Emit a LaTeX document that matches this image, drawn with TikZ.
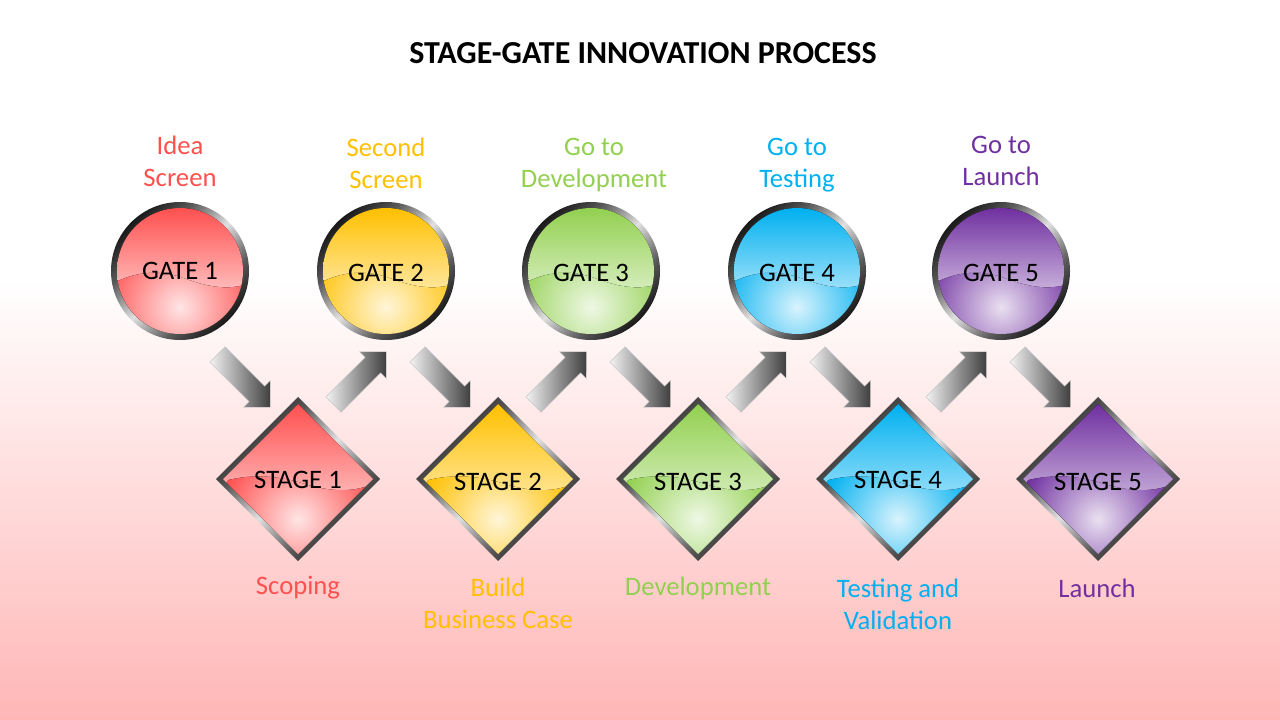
\documentclass[tikz,border=0pt]{standalone}
\usepackage{fontspec}
\setmainfont{Carlito}
\usetikzlibrary{shapes.arrows,calc}

\definecolor{sgred}{RGB}{255,80,80}
\definecolor{sgyellow}{RGB}{255,192,0}
\definecolor{sggreen}{RGB}{146,208,80}
\definecolor{sgblue}{RGB}{0,176,240}
\definecolor{sgpurple}{RGB}{112,48,160}
\definecolor{sgpink}{RGB}{255,182,182}

\pgfdeclareverticalshading{bezelshade}{100bp}{color(0bp)=(black!90); color(25bp)=(black!90); color(36bp)=(black!65); color(50bp)=(white!88!black); color(64bp)=(black!65); color(75bp)=(black!90); color(100bp)=(black!90)}

\begin{document}
\begin{tikzpicture}[x=0.75pt,y=0.75pt,yscale=-1,xscale=1,
  bezel/.style={shade, shading=bezelshade, shading angle=45},
  % inside the pics the y axis points up
  pics/gate/.style={code={
    \path[bezel] (0,0) circle[radius=69];
    \fill[top color=#1, middle color=#1!15!white, bottom color=#1!5!white] (0,0) circle[radius=63];
    \begin{scope}
      \clip (0,0) circle[radius=63];
      \clip (-70,-14) .. controls (-45,0) and (-20,2) .. (6,-8) .. controls (28,-16) and (50,-20) .. (70,-12) -- (70,-72) -- (-70,-72) -- cycle;
      \fill[inner color=#1!15!white, outer color=#1] (0,-36) circle[radius=80];
    \end{scope}
  }},
  pics/stage/.style={code={
    \path[bezel] (-82,0) -- (0,82) -- (82,0) -- (0,-82) -- cycle;
    \fill[top color=#1, middle color=#1!15!white, bottom color=#1!5!white] (-75,0) -- (0,75) -- (75,0) -- (0,-75) -- cycle;
    \begin{scope}
      \clip (-75,0) -- (0,75) -- (75,0) -- (0,-75) -- cycle;
      \clip (-80,-4) .. controls (-50,6) and (-20,4) .. (10,-6) .. controls (35,-13) and (60,-14) .. (80,-2) -- (80,-84) -- (-80,-84) -- cycle;
      \fill[inner color=#1!15!white, outer color=#1] (0,-40) circle[radius=80];
    \end{scope}
  }},
  gatetext/.style={font=\fontsize{20}{24}\selectfont, text=black},
  sglabel/.style={font=\fontsize{20}{24}\selectfont, align=center},
  arrowbox/.style={single arrow, minimum height=56pt, inner xsep=0pt, inner ysep=8pt, single arrow head extend=6pt, left color=black!5, right color=black!75, draw=black!25, line width=0.3pt},
]

%Background
\fill[white] (0,0) rectangle (1280,280);
\fill[top color=white, bottom color=sgpink] (0,280) rectangle (1280,720);
\useasboundingbox (0,0) rectangle (1280,720);

%Title
\node[font=\bfseries\fontsize{24}{28}\selectfont] (title) at (643,53) {STAGE-GATE INNOVATION PROCESS};

%Shape: Gates
\pic at (180,271) {gate=sgred};
\pic at (386,271) {gate=sgyellow};
\pic at (591,271) {gate=sggreen};
\pic at (797,271) {gate=sgblue};
\pic at (1001,271) {gate=sgpurple};
\node[gatetext] (g1) at (180,271) {GATE 1};
\node[gatetext] (g2) at (386,273) {GATE 2};
\node[gatetext] (g3) at (591,273) {GATE 3};
\node[gatetext] (g4) at (797,273) {GATE 4};
\node[gatetext] (g5) at (1001,273) {GATE 5};

%Shape: Stages
\pic at (298,479) {stage=sgred};
\pic at (498,479) {stage=sgyellow};
\pic at (698,479) {stage=sggreen};
\pic at (898,479) {stage=sgblue};
\pic at (1098,479) {stage=sgpurple};
\node[gatetext] (s1) at (298,480) {STAGE 1};
\node[gatetext] (s2) at (498,482) {STAGE 2};
\node[gatetext] (s3) at (698,482) {STAGE 3};
\node[gatetext] (s4) at (898,480) {STAGE 4};
\node[gatetext] (s5) at (1098,482) {STAGE 5};

%Labels above gates
\node[sglabel, text=sgred] (l1) at (180,161) {Idea\\Screen};
\node[sglabel, text=sgyellow] (l2) at (386,163) {Second\\Screen};
\node[sglabel, text=sggreen] (l3) at (594,165) {Go to\\Development};
\node[sglabel, text=sgblue] (l4) at (797,165) {Go to\\Testing};
\node[sglabel, text=sgpurple] (l5) at (1001,161) {Go to\\Launch};

%Labels below stages
\node[sglabel, text=sgred] (b1) at (298,588) {Scoping};
\node[sglabel, text=sgyellow] (b2) at (498,603) {Build\\Business Case};
\node[sglabel, text=sggreen] (b3) at (698,588) {Development};
\node[sglabel, text=sgblue] (b4) at (898,604) {Testing and\\Validation};
\node[sglabel, text=sgpurple] (b5) at (1097,588) {Launch};

%Arrows gate to stage
\node[arrowbox, rotate=-45] (d1) at ($(s1)+(-58,-103)$) {};
\node[arrowbox, rotate=-45] (d2) at ($(s2)+(-58,-105)$) {};
\node[arrowbox, rotate=-45] (d3) at ($(s3)+(-58,-105)$) {};
\node[arrowbox, rotate=-45] (d4) at ($(s4)+(-58,-103)$) {};
\node[arrowbox, rotate=-45] (d5) at ($(s5)+(-58,-105)$) {};
%Arrows stage to gate
\node[arrowbox, rotate=45] (u1) at ($(s1)+(58,-98)$) {};
\node[arrowbox, rotate=45] (u2) at ($(s2)+(58,-100)$) {};
\node[arrowbox, rotate=45] (u3) at ($(s3)+(58,-100)$) {};
\node[arrowbox, rotate=45] (u4) at ($(s4)+(58,-98)$) {};

\end{tikzpicture}
\end{document}
